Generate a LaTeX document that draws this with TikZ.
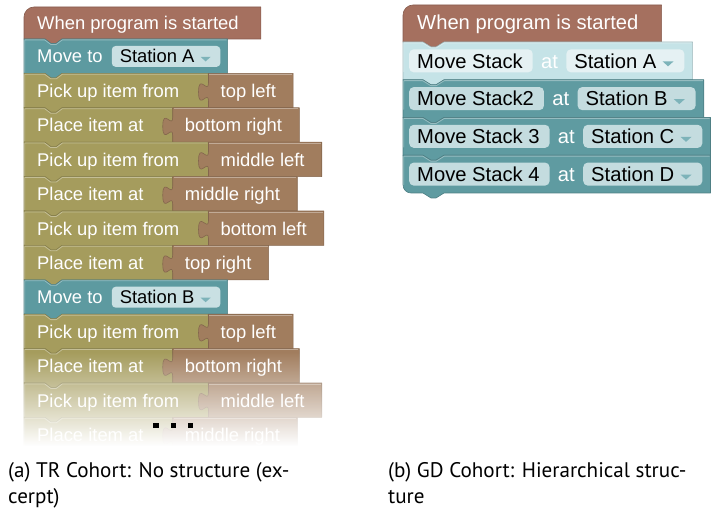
\documentclass[tikz,border=0pt]{standalone}
\usepackage{fontspec}
\setmainfont{Liberation Sans}
\newfontfamily\capfont{PT Sans}
\usetikzlibrary{calc,fadings}
\pgfdeclarelayer{background}
\pgfsetlayers{background,main}

\definecolor{hatc}{HTML}{A5705F}
\definecolor{tealc}{HTML}{5D9AA0}
\definecolor{olivec}{HTML}{A59C5D}
\definecolor{valc}{HTML}{A17D5E}
\definecolor{fieldc}{HTML}{C9E0E3}
\definecolor{lightc}{HTML}{C5E3E7}
\definecolor{lfieldc}{HTML}{E5F1F3}
\definecolor{rtealc}{HTML}{5F9BA1}
\definecolor{rfieldc}{HTML}{C4DCDF}
\definecolor{tric}{HTML}{7DB3B9}

\newcommand\lfont{\fontsize{18.4}{20}\selectfont}
\newcommand\rfont{\fontsize{20.2}{22}\selectfont}

\tikzfading[name=fadedown, top color=transparent!100, bottom color=transparent!0]

\tikzset{
  blk/.style={fill=#1, draw=#1!82!black, line width=0.6pt, line join=round},
  shine/.style={draw=white, draw opacity=0.35, line width=0.8pt, line join=round},
  lbl/.style={anchor=base west, inner sep=0pt, text=white, font=\lfont},
  rlbl/.style={anchor=base west, inner sep=0pt, text=white, font=\rfont},
  lfield/.style={fill=fieldc, rounded corners=4pt, inner sep=0pt, minimum height=21pt,
    text height=13.2pt, text depth=0pt, anchor=base west, font=\lfont},
  rfield/.style={fill=#1, rounded corners=4.5pt, inner sep=0pt, minimum height=23pt,
    text height=14.5pt, text depth=0pt, anchor=base west, font=\rfont},
  captext/.style={anchor=base west, inner sep=0pt, font=\capfont\fontsize{21.1}{24}\selectfont},
  sqdot/.style={rectangle, fill=black, inner sep=0pt, minimum size=5.5pt},
}

% "Move to <station>" statement (left stack); #1 name, #2 top edge, #3 station
\newcommand\moverow[3]{%
  \pgfmathsetmacro\T{512-#2}
  \node[lbl] (#1l) at (37,\T-24) {Move to};
  \node[lfield] (#1f) at ($(#1l.base east)+(8.7,0)$) {\hspace*{8pt}#3\hspace*{26pt}};
  \fill[tric] ($(#1f.east)+(-20,-0.5)$) -- ++(10,0) -- ++(-5,-4.5) -- cycle;
  \begin{pgfonlayer}{background}
  \filldraw[blk=tealc] let \p1=(#1f.east) in
    (24,\T) -- (45,\T) -- (51,\T-4.5) -- (56,\T-4.5) -- (62,\T) -- (\x1+7,\T)
    -- (\x1+7,\T-34.4) -- (62,\T-34.4) -- (56,\T-38.9) -- (51,\T-38.9)
    -- (45,\T-34.4) -- (24,\T-34.4) -- cycle;
  \draw[shine] let \p1=(#1f.east) in
    (24.8,\T-33.6) -- (24.8,\T-0.9) -- (44.7,\T-0.9) -- (50.7,\T-5.4) -- (56.3,\T-5.4)
    -- (62.3,\T-0.9) -- (\x1+6,\T-0.9);
  \end{pgfonlayer}
}

% pick/place statement with a plugged-in position value; #1 name, #2 top, #3 label, #4 value
\newcommand\itemrow[4]{%
  \pgfmathsetmacro\T{512-#2}
  \node[lbl] (#1l) at (37,\T-24) {#3};
  \node[lbl] (#1v) at ($(#1l.base east)+(41,0)$) {#4};
  \begin{pgfonlayer}{background}
  \filldraw[blk=olivec] let \p1=(#1l.east) in
    (24,\T) -- (45,\T) -- (51,\T-4.5) -- (56,\T-4.5) -- (62,\T) -- (\x1+29,\T)
    -- (\x1+29,\T-34.4) -- (62,\T-34.4) -- (56,\T-38.9) -- (51,\T-38.9)
    -- (45,\T-34.4) -- (24,\T-34.4) -- cycle;
  \draw[shine] let \p1=(#1l.east) in
    (24.8,\T-33.6) -- (24.8,\T-0.9) -- (44.7,\T-0.9) -- (50.7,\T-5.4) -- (56.3,\T-5.4)
    -- (62.3,\T-0.9) -- (\x1+28,\T-0.9);
  \filldraw[blk=valc] let \p1=(#1l.east), \p2=(#1v.east) in
    (\x1+29,\T) -- (\x2+17,\T) -- (\x2+17,\T-34.4) -- (\x1+29,\T-34.4) -- (\x1+29,\T-28)
    .. controls (\x1+29,\T-15.5) and (\x1+19,\T-38) .. (\x1+19,\T-18.6)
    .. controls (\x1+19,\T+0.75) and (\x1+29,\T-21.75) .. (\x1+29,\T-9.25) -- cycle;
  \draw[shine] let \p1=(#1l.east), \p2=(#1v.east) in
    (\x1+29.8,\T-0.9) -- (\x2+16,\T-0.9);
  \end{pgfonlayer}
}

% "Move Stack ... at <station>" statement (right stack)
% #1 name, #2 top, #3 stack, #4 station, #5 block fill, #6 field fill, #7 closing of the outline
\newcommand\stackrow[7]{%
  \pgfmathsetmacro\T{512-#2}
  \node[rfield=#6] (#1a) at (409,\T-26.1) {\hspace*{8pt}#3\hspace*{10pt}};
  \node[rlbl] (#1b) at ($(#1a.base east)+(8,0)$) {at};
  \node[rfield=#6] (#1c) at ($(#1b.base east)+(8,0)$) {\hspace*{8pt}#4\hspace*{28pt}};
  \fill[tric] ($(#1c.east)+(-22,-0.5)$) -- ++(11,0) -- ++(-5.5,-5) -- cycle;
  \begin{pgfonlayer}{background}
  \filldraw[blk=#5] let \p1=(#1c.east) in
    (403,\T) -- (423,\T) -- (431,\T-5) -- (436,\T-5) -- (444,\T) -- (\x1+8,\T)
    -- (\x1+8,\T-37.75) -- (444,\T-37.75) -- (436,\T-42.75) -- (431,\T-42.75)
    -- (423,\T-37.75) #7 -- cycle;
  \draw[shine] let \p1=(#1c.east) in
    (403.8,\T-30) -- (403.8,\T-0.9) -- (422.7,\T-0.9) -- (430.7,\T-5.9) -- (436.3,\T-5.9)
    -- (444.3,\T-0.9) -- (\x1+7,\T-0.9);
  \end{pgfonlayer}
}

\begin{document}
\begin{tikzpicture}[x=1pt,y=1pt]
\useasboundingbox (0,0) rectangle (719,512);

% ---------- left stack ----------
\node[lbl] (hatl) at (37,512-29.3) {When program is started};
\begin{pgfonlayer}{background}
\filldraw[blk=hatc] let \p1=(hatl.east) in
  (24,473) -- (24,495) arc[start angle=180, end angle=90, radius=10]
  -- (\x1+22,505) -- (\x1+22,473) -- (62,473) -- (56,468.5) -- (51,468.5) -- (45,473) -- cycle;
\end{pgfonlayer}

\moverow{ma}{39}{Station A}
\itemrow{p1}{73.4}{Pick up item from}{top left}
\itemrow{q1}{107.8}{Place item at}{bottom right}
\itemrow{p2}{142.2}{Pick up item from}{middle left}
\itemrow{q2}{176.6}{Place item at}{middle right}
\itemrow{p3}{211}{Pick up item from}{bottom left}
\itemrow{q3}{245.4}{Place item at}{top right}
\moverow{mb}{279.8}{Station B}
\itemrow{p4}{314.2}{Pick up item from}{top left}
\itemrow{q4}{348.6}{Place item at}{bottom right}
\itemrow{p5}{383}{Pick up item from}{middle left}
\itemrow{q5}{417.4}{Place item at}{middle right}

% the excerpt dissolves into white at the bottom
\fill[white, path fading=fadedown] (18,512-352) rectangle (352,512-446);
\fill[white] (18,512-446) rectangle (352,512-462);
\node[sqdot] (dot1) at (156,512-425.5) {};
\node[sqdot] (dot2) at (173.5,512-425.5) {};
\node[sqdot] (dot3) at (190.5,512-425.5) {};

% ---------- right stack ----------
\node[rlbl] (hatr) at (417,512-30) {When program is started};
\begin{pgfonlayer}{background}
\filldraw[blk=hatc] let \p1=(hatr.east) in
  (403,470) -- (403,497) arc[start angle=180, end angle=90, radius=10]
  -- (\x1+23,507) -- (\x1+23,470) -- (444,470) -- (436,465) -- (431,465) -- (423,470) -- cycle;
\end{pgfonlayer}

\stackrow{s1}{42}{Move Stack}{Station A}{lightc}{lfieldc}{-- (403,\T-37.75)}
\stackrow{s2}{79.75}{Move Stack2}{Station B}{rtealc}{rfieldc}{-- (403,\T-37.75)}
\stackrow{s3}{117.5}{Move Stack 3}{Station C}{rtealc}{rfieldc}{-- (403,\T-37.75)}
\stackrow{s4}{155.25}{Move Stack 4}{Station D}{rtealc}{rfieldc}{-- (411,\T-37.75) arc[start angle=270, end angle=180, radius=8]}

% ---------- captions ----------
\node[captext] (capa1) at (8,512-477) {(a) TR Cohort: No structure (ex-};
\node[captext] (capa2) at (8,512-503) {cerpt)};
\node[captext] (capb1) at (388,512-477) {(b) GD Cohort: Hierarchical struc-};
\node[captext] (capb2) at (388,512-503) {ture};
\end{tikzpicture}
\end{document}
